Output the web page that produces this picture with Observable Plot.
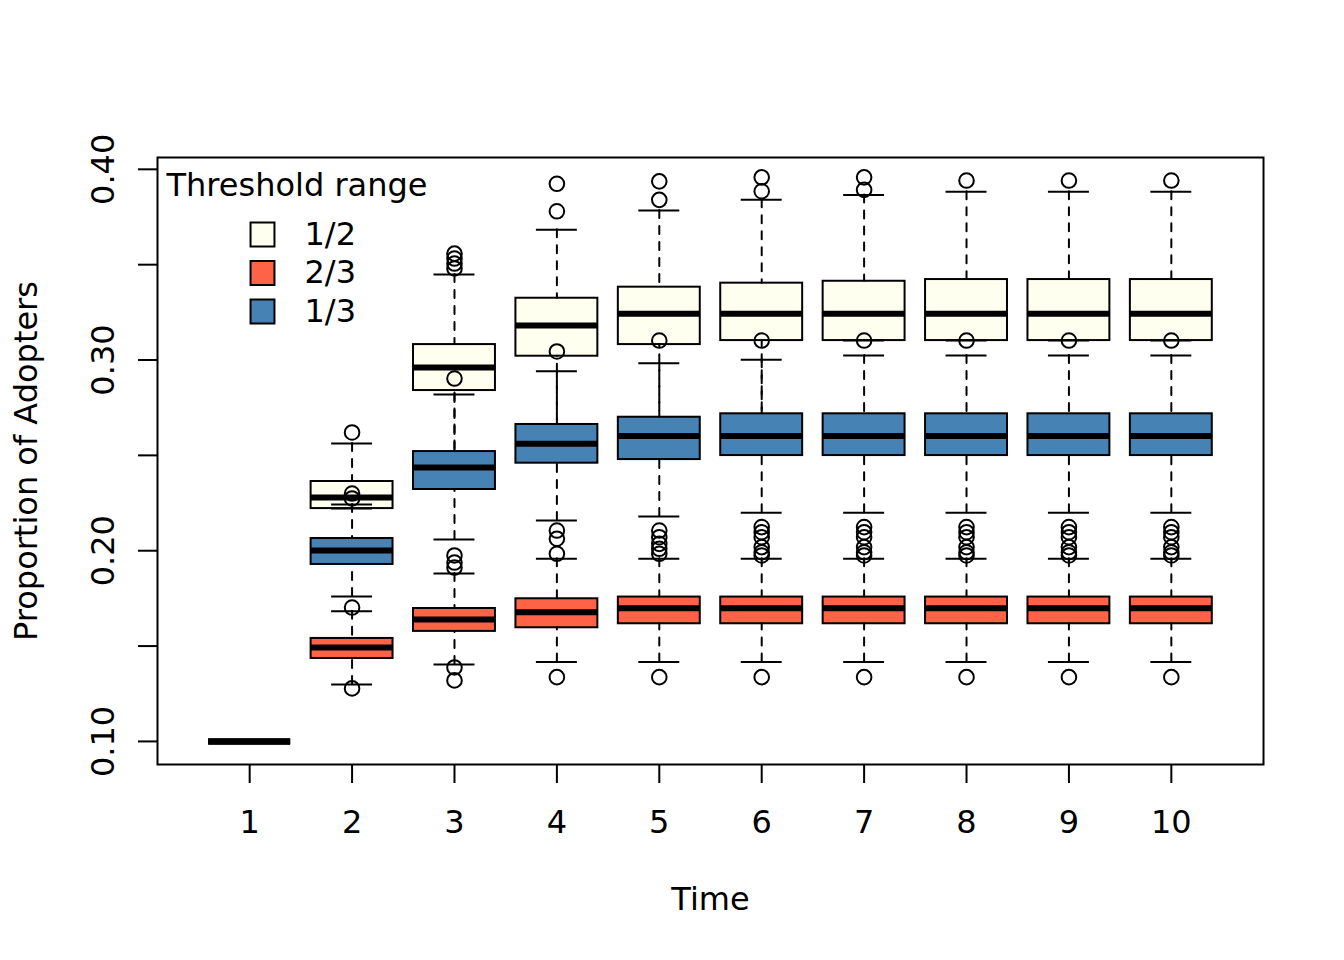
<!DOCTYPE html>
<html>
<head>
<meta charset="utf-8">
<script src="https://cdn.jsdelivr.net/npm/d3@7"></script>
<script src="https://cdn.jsdelivr.net/npm/@observablehq/plot@0.6"></script>
<style>
  html, body { margin: 0; padding: 0; background: white; }
  #chart svg { display: block; }
</style>
</head>
<body>
<div id="chart"></div>
<script>
// ---- categories / ticks ----
const times = [1, 2, 3, 4, 5, 6, 7, 8, 9, 10];
const yTicks = [0.10, 0.15, 0.20, 0.25, 0.30, 0.35, 0.40];
const yLabeled = [0.10, 0.20, 0.30, 0.40];
const seriesNames = ["1/2", "2/3", "1/3"];
const seriesColors = ["ivory", "tomato", "steelblue"];

// ---- series "1/2" ----
const halfLo  = [0.10, 0.2221, 0.245, 0.260, 0.265, 0.265, 0.3102, 0.3102, 0.3102, 0.3102];
const halfQ1  = [0.10, 0.2221, 0.2840, 0.3020, 0.3081, 0.3102, 0.3102, 0.3102, 0.3102, 0.3102];
const halfMed = [0.10, 0.2279, 0.2961, 0.3181, 0.3242, 0.3242, 0.3242, 0.3242, 0.3242, 0.3242];
const halfQ3  = [0.10, 0.2363, 0.3081, 0.3324, 0.3382, 0.3403, 0.3413, 0.3422, 0.3422, 0.3422];
const halfHi  = [0.10, 0.2562, 0.3448, 0.3683, 0.3784, 0.3841, 0.3866, 0.3883, 0.3883, 0.3883];
const halfOut = [[2, 0.2620], [3, 0.3480], [3, 0.3506], [3, 0.3532], [3, 0.3558],
  [4, 0.3780], [4, 0.3924], [5, 0.3840], [5, 0.3937], [6, 0.3885], [6, 0.3958],
  [7, 0.3892], [7, 0.3958], [8, 0.3941], [9, 0.3941], [10, 0.3941]];

// ---- series "2/3" ----
const twoLo  = [0.10, 0.1299, 0.1404, 0.1416, 0.1416, 0.1416, 0.1416, 0.1416, 0.1416, 0.1416];
const twoQ1  = [0.10, 0.1435, 0.1577, 0.1596, 0.1617, 0.1617, 0.1617, 0.1617, 0.1617, 0.1617];
const twoMed = [0.10, 0.1493, 0.1640, 0.1678, 0.1699, 0.1699, 0.1699, 0.1699, 0.1699, 0.1699];
const twoQ3  = [0.10, 0.1540, 0.1697, 0.1748, 0.1757, 0.1757, 0.1757, 0.1757, 0.1757, 0.1757];
const twoHi  = [0.10, 0.1682, 0.1881, 0.1958, 0.1958, 0.1958, 0.1958, 0.1958, 0.1958, 0.1958];
const twoOut = [[2, 0.1702], [2, 0.1278], [3, 0.1912], [3, 0.1938], [3, 0.1388], [3, 0.1320],
  [4, 0.1337], [5, 0.1337], [6, 0.1337], [7, 0.1337], [8, 0.1337], [9, 0.1337], [10, 0.1337]];

// ---- series "1/3" ----
const thirdLo  = [0.10, 0.1760, 0.2059, 0.2159, 0.2180, 0.2199, 0.2199, 0.2199, 0.2199, 0.2199];
const thirdQ1  = [0.10, 0.1928, 0.2321, 0.2459, 0.2478, 0.2499, 0.2499, 0.2499, 0.2499, 0.2499];
const thirdMed = [0.10, 0.2001, 0.2436, 0.2561, 0.2601, 0.2601, 0.2601, 0.2601, 0.2601, 0.2601];
const thirdQ3  = [0.10, 0.2064, 0.2520, 0.2662, 0.2700, 0.2718, 0.2718, 0.2718, 0.2718, 0.2718];
const thirdHi  = [0.10, 0.2242, 0.2819, 0.2941, 0.2983, 0.3001, 0.3024, 0.3024, 0.3024, 0.3024];
const thirdOut = [[2, 0.2274], [2, 0.2300], [3, 0.2903], [3, 0.1975],
  [4, 0.3045], [4, 0.2106], [4, 0.2063], [4, 0.1984],
  [5, 0.3102], [5, 0.2106], [5, 0.2071], [5, 0.2036], [5, 0.2010], [5, 0.1984],
  ...[6, 7, 8, 9, 10].flatMap(t => [0.3102, 0.2124, 0.2097, 0.2071, 0.2019, 0.1992, 0.1975].map(v => [t, v]))];

const statsBySeries = [
  [halfLo, halfQ1, halfMed, halfQ3, halfHi, halfOut],
  [twoLo, twoQ1, twoMed, twoQ3, twoHi, twoOut],
  [thirdLo, thirdQ1, thirdMed, thirdQ3, thirdHi, thirdOut]
];

const HALF = 0.4, CAP = 0.2;
const marks = [];

statsBySeries.forEach(([lo, q1, med, q3, hi, out], s) => {
  const rows = times.map((t, i) => ({t, lo: lo[i], q1: q1[i], med: med[i], q3: q3[i], hi: hi[i]}));
  const outs = out.map(([t, v]) => ({t, v}));
  marks.push(
    Plot.rect(rows, {x1: d => d.t - HALF, x2: d => d.t + HALF, y1: "q1", y2: "q3",
      fill: seriesColors[s], stroke: "black", strokeWidth: 2}),
    Plot.ruleY(rows, {y: "med", x1: d => d.t - HALF, x2: d => d.t + HALF,
      stroke: "black", strokeWidth: 6}),
    Plot.ruleX(rows, {x: "t", y1: "lo", y2: "q1", stroke: "black", strokeWidth: 2,
      strokeDasharray: "8,8", strokeLinecap: "round"}),
    Plot.ruleX(rows, {x: "t", y1: "hi", y2: "q3", stroke: "black", strokeWidth: 2,
      strokeDasharray: "8,8", strokeLinecap: "round"}),
    Plot.ruleY(rows, {y: "lo", x1: d => d.t - CAP, x2: d => d.t + CAP, stroke: "black", strokeWidth: 2}),
    Plot.ruleY(rows, {y: "hi", x1: d => d.t - CAP, x2: d => d.t + CAP, stroke: "black", strokeWidth: 2}),
    Plot.dot(outs, {x: "t", y: "v", r: 7.3, fill: "none", stroke: "black", strokeWidth: 2})
  );
});

// legend (inside plot area, top-left)
marks.push(
  Plot.text(["Threshold range"], {frameAnchor: "top-left", dx: 9, dy: 28, text: d => d,
    textAnchor: "start", lineAnchor: "middle", fontSize: 32, fill: "black"})
);
seriesNames.forEach((name, i) => {
  marks.push(
    Plot.dot([name], {frameAnchor: "top-left", dx: 105, dy: 77 + i * 38.5, symbol: "square",
      r: 13.5, fill: seriesColors[i], stroke: "black", strokeWidth: 2}),
    Plot.text([name], {frameAnchor: "top-left", dx: 147, dy: 77 + i * 38.5, text: d => d,
      textAnchor: "start", lineAnchor: "middle", fontSize: 32, fill: "black"})
  );
});

// axes
marks.push(
  Plot.axisX(times, {tickSize: 19, tickPadding: 27, strokeWidth: 2, fontSize: 32, label: null,
    tickFormat: d => String(d)}),
  Plot.axisY(yTicks, {tickSize: 19, tickPadding: 25, tickRotate: -90, strokeWidth: 2, fontSize: 32,
    label: null, tickFormat: d => yLabeled.some(v => Math.abs(v - d) < 1e-9) ? d.toFixed(2) : ""}),
  Plot.text(["Time"], {frameAnchor: "bottom", dy: 135, text: d => d, lineAnchor: "middle",
    textAnchor: "middle", fontSize: 32, fill: "black"}),
  Plot.text(["Proportion of Adopters"], {frameAnchor: "left", dx: -131, rotate: -90, text: d => d,
    textAnchor: "middle", lineAnchor: "middle", fontSize: 32, fill: "black"}),
  Plot.frame({stroke: "black", strokeWidth: 2})
);

const chart = Plot.plot({
  width: 1344,
  height: 960,
  marginLeft: 157,
  marginRight: 81,
  marginTop: 157,
  marginBottom: 196,
  x: {type: "linear", domain: [0.1, 10.9], axis: null},
  y: {type: "linear", domain: [0.0879, 0.4062], axis: null},
  style: {fontFamily: "'DejaVu Sans', sans-serif", fontSize: "32px", background: "white", color: "black"},
  marks
});
document.getElementById("chart").appendChild(chart);
</script>
</body>
</html>
